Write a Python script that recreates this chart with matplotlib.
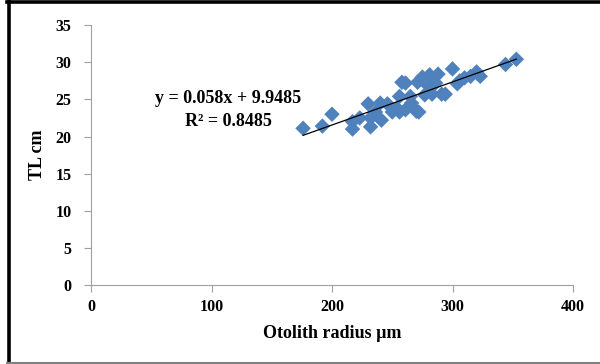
import matplotlib
matplotlib.use("Agg")
import matplotlib.pyplot as plt
from matplotlib.lines import Line2D
import numpy as np

# Otolith radius (µm) and total length (cm)
radius = [176, 192, 200, 217, 217, 223, 230, 232, 232, 236, 240, 241, 246,
          250, 254, 256, 258, 256, 261, 261, 265, 266, 270, 271, 272, 275,
          277, 280, 281, 283, 286, 288, 291, 294, 300, 304, 306, 310, 315,
          320, 323, 344, 353]
tl = [21.1, 21.4, 23.0, 21.0, 22.0, 22.5, 24.4, 22.5, 21.3, 23.3, 24.5, 22.2,
      24.4, 23.3, 23.8, 25.4, 27.3, 23.3, 23.6, 27.2, 25.4, 24.5, 23.4, 27.3,
      23.3, 28.0, 25.6, 26.8, 28.3, 25.7, 27.2, 28.4, 25.7, 25.7, 29.1, 27.1,
      27.5, 27.9, 28.1, 28.7, 28.1, 29.7, 30.4]

slope = 0.058
intercept = 9.9485
r2 = 0.8485

x_ticks = [0, 100, 200, 300, 400]
y_ticks = [0, 5, 10, 15, 20, 25, 30, 35]

serif = "Liberation Serif"

fig = plt.figure(figsize=(6.0, 3.64), dpi=100)
ax = fig.add_axes([0.1517, 0.217, 0.8033, 0.714])

ax.scatter(radius, tl, marker="D", s=62, color="#4F81BD", edgecolors="none", zorder=2)

xl = np.array([min(radius), max(radius)])
ax.plot(xl, slope * xl + intercept, color="black", lw=0.9, zorder=3)

ax.set_xlim(0, 400)
ax.set_ylim(0, 35)
ax.set_xticks(x_ticks)
ax.set_yticks(y_ticks)
for lab in ax.get_xticklabels() + ax.get_yticklabels():
    lab.set_fontfamily(serif)
    lab.set_fontweight("bold")
    lab.set_fontsize(11.5)

for s in ("top", "right"):
    ax.spines[s].set_visible(False)
for s in ("left", "bottom"):
    ax.spines[s].set_color("#A0A0A0")
    ax.spines[s].set_linewidth(0.8)
ax.tick_params(axis="both", direction="out", length=5, width=0.8, color="#A0A0A0",
               pad=5)
ax.tick_params(axis="y", pad=9)

ax.set_xlabel("Otolith radius µm", fontfamily=serif, fontweight="bold", fontsize=13,
              labelpad=7)
ax.set_ylabel("TL cm", fontfamily=serif, fontweight="bold", fontsize=13, labelpad=7)

ax.text(114, 25.1, f"y = {slope}x + {intercept}", fontfamily=serif,
        fontweight="bold", fontsize=13, ha="center", va="center")
ax.text(114, 22.0, f"R² = {r2}", fontfamily=serif,
        fontweight="bold", fontsize=13, ha="center", va="center")

# outer frame
W, H = 600.0, 364.0
fig.add_artist(Line2D([8.5 / W, 8.5 / W], [0, 1], color="black", lw=2.6,
                      transform=fig.transFigure))
fig.add_artist(Line2D([7 / W, 1], [1 - 1.5 / H, 1 - 1.5 / H], color="black", lw=2.6,
                      transform=fig.transFigure))
fig.add_artist(Line2D([7 / W, 1], [1.5 / H, 1.5 / H], color="#808080", lw=1.5,
                      transform=fig.transFigure))

fig.savefig("out.png", dpi=100)
